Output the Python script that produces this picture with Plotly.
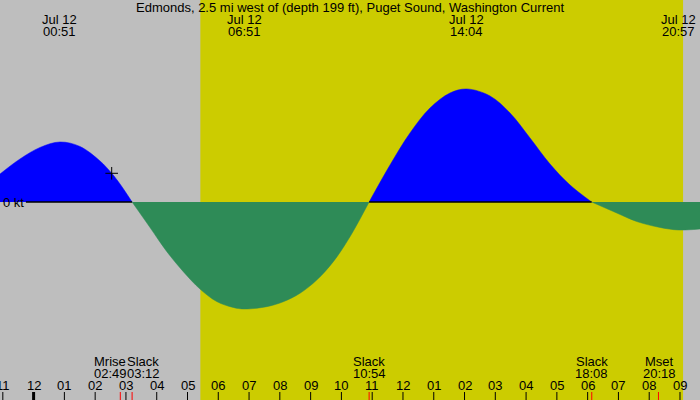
import plotly.graph_objects as go

TITLE = "Edmonds, 2.5 mi west of (depth 199 ft), Puget Sound, Washington Current"
DATE = "Jul 12"

# Current curve: hours after midnight Jul 12, speed in knots
hours = [-1.092, -0.442, 0.208, 0.858, 1.507, 2.157, 2.537, 2.807, 3.20,
         3.782, 4.324, 4.864, 5.406, 5.949, 6.488, 6.85, 7.573, 8.112, 8.655,
         9.198, 9.737, 10.279, 10.90,
         11.579, 12.229, 12.878, 13.528, 14.07, 14.828, 15.478, 16.127, 16.777,
         17.427, 18.13,
         18.944, 19.594, 20.351, 20.95, 21.65]
speed_kt = [0.311, 0.478, 0.606, 0.667, 0.617, 0.456, 0.319, 0.200, 0.0,
            -0.283, -0.550, -0.774, -0.967, -1.106, -1.172, -1.189, -1.163, -1.108, -1.014,
            -0.867, -0.663, -0.386, 0.0,
            0.411, 0.767, 1.044, 1.211, 1.256, 1.178, 0.989, 0.711, 0.422,
            0.189, 0.0,
            -0.122, -0.217, -0.283, -0.311, -0.300]

extreme_times = ["00:51", "06:51", "14:04", "20:57"]
event_names = ["Mrise", "Slack", "Slack", "Slack", "Mset"]
event_times = ["02:49", "03:12", "10:54", "18:08", "20:18"]
sunrise, sunset = "05:25", "21:06"
marker_time = [2.537]
marker_speed = [0.319]
hour_ticks = list(range(-1, 22))
hour_labels = ["%02d" % (((h - 1) % 12) + 1) for h in hour_ticks]

# styles
GRAY = "rgb(190,190,190)"
YELLOW = "rgb(204,204,0)"
BLUE = "rgb(0,0,255)"
GREEN = "rgb(46,139,87)"
FONT = dict(family="Liberation Sans, Arial, sans-serif", size=13, color="black")
W, H = 700, 400
X_RANGE = [-1.0916, 21.650]
Y_RANGE = [-2.2, 2.2444]
event_xshift = [-10, 11, 0, 0, 1]


def hm(s):
    h, m = s.split(":")
    return int(h) + int(m) / 60.0


def py(px):
    return 1 - px / H


fig = go.Figure()

# split curve into lobes at slack points
segments, cur = [], []
for t, v in zip(hours, speed_kt):
    cur.append((t, v))
    if v == 0 and len(cur) > 1:
        segments.append(cur)
        cur = [(t, v)]
if len(cur) > 1:
    segments.append(cur)

for seg in segments:
    xs = [p[0] for p in seg]
    ys = [p[1] for p in seg]
    pos = max(ys, key=abs) > 0
    col = BLUE if pos else GREEN
    fig.add_trace(go.Scatter(x=xs, y=ys, mode="lines",
                             line=dict(shape="spline", smoothing=1, width=0.5, color=col),
                             fill="tozeroy", fillcolor=col, hoverinfo="skip",
                             showlegend=False))
    if pos:
        x0 = max(xs[0], -0.25)
        fig.add_shape(type="line", x0=x0, x1=xs[-1], y0=0, y1=0,
                      xref="x", yref="y", line=dict(color="black", width=1.5),
                      layer="above")

fig.add_trace(go.Scatter(x=marker_time, y=marker_speed, mode="markers",
                         marker=dict(symbol="cross-thin", size=9,
                                     line=dict(width=1, color="black")),
                         hoverinfo="skip", showlegend=False))

# daylight
fig.add_shape(type="rect", x0=hm(sunrise), x1=hm(sunset), y0=0, y1=1,
              xref="x", yref="paper", fillcolor=YELLOW, line=dict(width=0),
              layer="below")

# hour ticks
for h, lab in zip(hour_ticks, hour_labels):
    fig.add_shape(type="line", x0=h, x1=h, y0=0, y1=8 / H, xref="x", yref="paper",
                  line=dict(color="black", width=3 if h == 0 else 1), layer="above")
    fig.add_annotation(x=h, y=py(385.5), xref="x", yref="paper", text=lab,
                       showarrow=False, font=FONT, xanchor="center", yanchor="middle")

# events
for name, tm, sh in zip(event_names, event_times, event_xshift):
    t = hm(tm)
    fig.add_shape(type="line", x0=t, x1=t, y0=0, y1=8 / H, xref="x", yref="paper",
                  line=dict(color="red", width=1), layer="above")
    fig.add_annotation(x=t, y=py(361), xref="x", yref="paper", text=name, xshift=sh,
                       showarrow=False, font=FONT, xanchor="center", yanchor="middle")
    fig.add_annotation(x=t, y=py(373.5), xref="x", yref="paper", text=tm, xshift=sh,
                       showarrow=False, font=FONT, xanchor="center", yanchor="middle")

# extremes at top
for tm in extreme_times:
    t = hm(tm)
    fig.add_annotation(x=t, y=py(19.5), xref="x", yref="paper", text=DATE,
                       showarrow=False, font=FONT, xanchor="center", yanchor="middle")
    fig.add_annotation(x=t, y=py(31.5), xref="x", yref="paper", text=tm,
                       showarrow=False, font=FONT, xanchor="center", yanchor="middle")

fig.add_annotation(x=0.5, y=py(7.5), xref="paper", yref="paper", text=TITLE,
                   showarrow=False, font=FONT, xanchor="center", yanchor="middle")
fig.add_annotation(x=1 / W, y=py(202.5), xref="paper", yref="paper", text="0 kt",
                   showarrow=False, font=FONT, xanchor="left", yanchor="middle")

fig.update_layout(
    width=W, height=H, margin=dict(l=0, r=0, t=0, b=0),
    paper_bgcolor=GRAY, plot_bgcolor=GRAY,
    xaxis=dict(range=X_RANGE, visible=False, fixedrange=True),
    yaxis=dict(range=Y_RANGE, visible=False, fixedrange=True),
    hovermode=False,
)

fig.write_html("out.html")
